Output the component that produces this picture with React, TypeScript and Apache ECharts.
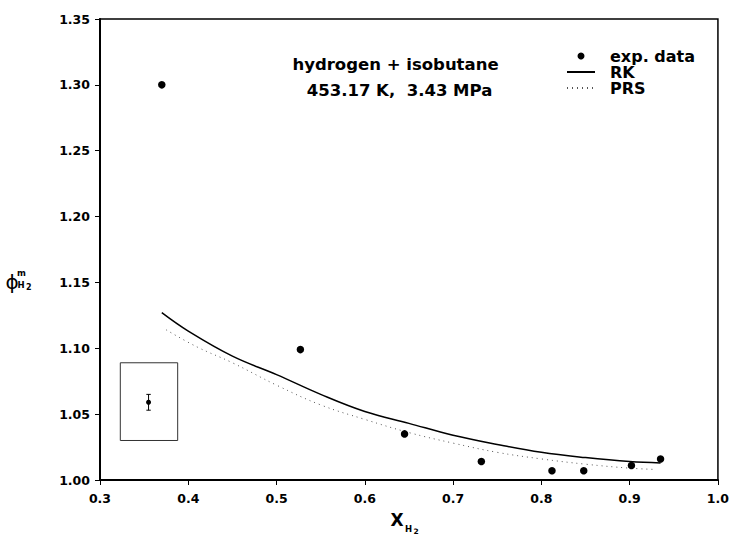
import React, { useEffect, useRef } from "react";
import * as echarts from "echarts";

// experimental data
const expX = [0.370, 0.527, 0.645, 0.732, 0.812, 0.848, 0.902, 0.935];
const expY = [1.300, 1.099, 1.035, 1.014, 1.007, 1.007, 1.011, 1.016];

// RK model curve
const rkX = [0.37, 0.40, 0.45, 0.50, 0.55, 0.60, 0.65, 0.70, 0.75, 0.80, 0.85, 0.90, 0.935];
const rkY = [1.127, 1.113, 1.094, 1.080, 1.065, 1.052, 1.043, 1.034, 1.027, 1.021, 1.017, 1.014, 1.013];

// PRS model curve
const prsX = [0.375, 0.41, 0.45, 0.50, 0.55, 0.60, 0.65, 0.70, 0.75, 0.80, 0.85, 0.90, 0.93];
const prsY = [1.114, 1.101, 1.089, 1.072, 1.057, 1.046, 1.036, 1.028, 1.021, 1.016, 1.012, 1.009, 1.008];

// inset: box [x0, y0, x1, y1] and error bar [x, y, low, high]
const insetBox = [[0.323, 1.030, 0.388, 1.089]];
const errorBar = [[0.355, 1.059, 1.053, 1.065]];

const titleLines = ["hydrogen + isobutane", "453.17 K,  3.43 MPa"];
const legendNames = ["exp. data", "RK", "PRS"];

const FONT = "DejaVu Sans";
const INK = "#000";

export default function App() {
  const ref = useRef<HTMLDivElement>(null);
  useEffect(() => {
    document.body.style.margin = "0";
    document.body.style.overflow = "hidden";
    const chart = echarts.init(ref.current!, null, { renderer: "svg" });
    const zip = (xs: number[], ys: number[]) => xs.map((x, i) => [x, ys[i]]);
    const sub = (text: string, x: number, y: number, size: number, align = "left") => ({
      type: "text",
      x,
      y,
      style: { text, fontFamily: FONT, fontWeight: "bold", fontSize: size, fill: INK, textAlign: align, textVerticalAlign: "middle" },
    });
    chart.setOption({
      animation: false,
      backgroundColor: "#fff",
      grid: {
        left: 100,
        right: 14,
        top: 19,
        bottom: 56,
        show: true,
        borderColor: INK,
        borderWidth: 1.5,
        backgroundColor: "transparent",
      },
      legend: {
        left: 566,
        top: 48,
        padding: 0,
        orient: "vertical",
        itemWidth: 28,
        itemHeight: 7,
        itemGap: 0,
        selectedMode: false,
        data: [
          { name: legendNames[0] },
          { name: legendNames[1], itemStyle: { opacity: 0 } },
          { name: legendNames[2], itemStyle: { opacity: 0 } },
        ],
        textStyle: {
          fontFamily: FONT,
          fontWeight: "bold",
          fontSize: 16,
          lineHeight: 16,
          color: INK,
          padding: [0, 0, 0, 10],
        },
      },
      xAxis: {
        type: "value",
        min: 0.3,
        max: 1.0,
        interval: 0.1,
        axisLine: { lineStyle: { color: INK, width: 2 } },
        axisTick: { show: true, length: 5, lineStyle: { color: INK, width: 1 } },
        splitLine: { show: false },
        axisLabel: {
          margin: 12,
          fontFamily: FONT,
          fontWeight: "bold",
          fontSize: 12.5,
          color: INK,
          formatter: (v: number) => v.toFixed(1),
        },
      },
      yAxis: {
        type: "value",
        min: 1.0,
        max: 1.35,
        interval: 0.05,
        axisLine: { show: true, lineStyle: { color: INK, width: 2 } },
        axisTick: { show: true, length: 5, lineStyle: { color: INK, width: 1 } },
        splitLine: { show: false },
        axisLabel: {
          margin: 10,
          fontFamily: FONT,
          fontWeight: "bold",
          fontSize: 12.5,
          color: INK,
          formatter: (v: number) => v.toFixed(2),
        },
      },
      series: [
        {
          name: "RK",
          type: "line",
          data: zip(rkX, rkY),
          smooth: 0.4,
          symbol: "none",
          itemStyle: { color: INK },
          lineStyle: { color: INK, width: 1.5 },
          z: 3,
        },
        {
          name: "PRS",
          type: "line",
          data: zip(prsX, prsY),
          smooth: 0.4,
          symbol: "none",
          itemStyle: { color: "#555" },
          lineStyle: { color: "#555", width: 1, type: [1, 4] },
          z: 3,
        },
        {
          name: "exp. data",
          type: "scatter",
          data: zip(expX, expY),
          symbol: "circle",
          symbolSize: 7.5,
          itemStyle: { color: INK, opacity: 1 },
          z: 5,
        },
        {
          name: "inset",
          type: "custom",
          data: insetBox,
          encode: { x: [0, 2], y: [1, 3] },
          renderItem: (_p: any, api: any) => {
            const a = api.coord([api.value(0), api.value(1)]);
            const b = api.coord([api.value(2), api.value(3)]);
            return {
              type: "rect",
              shape: { x: a[0], y: b[1], width: b[0] - a[0], height: a[1] - b[1] },
              style: { fill: "none", stroke: "#333", lineWidth: 1 },
            };
          },
          z: 2,
        },
        {
          name: "errorbar",
          type: "custom",
          data: errorBar,
          encode: { x: 0, y: [1, 2, 3] },
          renderItem: (_p: any, api: any) => {
            const c = api.coord([api.value(0), api.value(1)]);
            const lo = api.coord([api.value(0), api.value(2)]);
            const hi = api.coord([api.value(0), api.value(3)]);
            const w = 2.2;
            const st = { stroke: INK, lineWidth: 1 };
            return {
              type: "group",
              children: [
                { type: "line", shape: { x1: lo[0], y1: lo[1], x2: hi[0], y2: hi[1] }, style: st },
                { type: "line", shape: { x1: lo[0] - w, y1: lo[1], x2: lo[0] + w, y2: lo[1] }, style: st },
                { type: "line", shape: { x1: hi[0] - w, y1: hi[1], x2: hi[0] + w, y2: hi[1] }, style: st },
                { type: "circle", shape: { cx: c[0], cy: c[1], r: 2.5 }, style: { fill: INK } },
              ],
            };
          },
          z: 4,
        },
      ],
      graphic: [
        sub(titleLines[0], 395.5, 64, 16.5, "center"),
        sub(titleLines[1], 399.5, 90, 16.5, "center"),
        // y-axis title: phi^m_{H2}
        {
          type: "text",
          x: 12,
          y: 282,
          style: { text: "ϕ", fontFamily: FONT, fontSize: 20, fill: INK, textAlign: "center", textVerticalAlign: "middle" },
        },
        sub("m", 21.5, 272.5, 8.5, "center"),
        sub("H", 17.5, 285, 8.5),
        sub("2", 26, 287, 8),
        // x-axis title: X_{H2}
        sub("X", 397, 520, 17, "center"),
        sub("H", 405, 529, 8.5),
        sub("2", 413.5, 531, 7.5),
      ],
    });
    return () => chart.dispose();
  }, []);
  return <div ref={ref} style={{ width: 732, height: 536 }} />;
}
